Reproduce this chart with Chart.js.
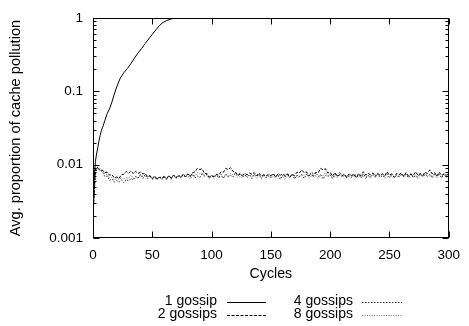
<!DOCTYPE html>
<html>
<head>
<meta charset="utf-8">
<script src="https://cdn.jsdelivr.net/npm/chart.js@4/dist/chart.umd.min.js"></script>
<style>
  html, body { margin: 0; padding: 0; background: #fff; }
  #wrap { width: 469px; height: 326px; }
</style>
</head>
<body>
<div id="wrap"><canvas id="c" width="469" height="326"></canvas></div>
<script>
// ---------------- data ----------------
const seriesLabels = ['1 gossip', '2 gossips', '4 gossips', '8 gossips'];

const oneGossipCycles = [0,1,2,3,4,5,6,7,8,10,12,14,16,18,20,23,26,29,32,35,38,41,44,47,50,53,56,59,62,65,68,71,80,100,150,200,250,300];
const oneGossip = [0.002,0.0065,0.011,0.014,0.017,0.021,0.025,0.029,0.032,0.040,0.050,0.058,0.072,0.092,0.115,0.152,0.180,0.205,0.240,0.285,0.335,0.385,0.450,0.520,0.600,0.690,0.790,0.870,0.925,0.965,0.990,1.0,1.0,1.0,1.0,1.0,1.0,1.0];

const cycles = [
  0,2,4,6,8,10,12,14,16,18,
  20,22,24,26,28,30,32,34,36,38,
  40,42,44,46,48,50,52,54,56,58,
  60,62,64,66,68,70,72,74,76,78,
  80,82,84,86,88,90,92,94,96,98,
  100,102,104,106,108,110,112,114,116,118,
  120,122,124,126,128,130,132,134,136,138,
  140,142,144,146,148,150,152,154,156,158,
  160,162,164,166,168,170,172,174,176,178,
  180,182,184,186,188,190,192,194,196,198,
  200,202,204,206,208,210,212,214,216,218,
  220,222,224,226,228,230,232,234,236,238,
  240,242,244,246,248,250,252,254,256,258,
  260,262,264,266,268,270,272,274,276,278,
  280,282,284,286,288,290,292,294,296,298,
  300
];

const twoGossips = [
  0.0020,0.0086,0.0090,0.0083,0.0084,0.0078,0.0079,0.0072,0.0073,0.0066,
  0.0068,0.0065,0.0073,0.0074,0.0081,0.0076,0.0082,0.0075,0.0081,0.0076,
  0.0079,0.0075,0.0076,0.0069,0.0071,0.0065,0.0070,0.0064,0.0067,0.0065,
  0.0068,0.0065,0.0070,0.0066,0.0072,0.0066,0.0073,0.0067,0.0074,0.0068,
  0.0075,0.0069,0.0078,0.0080,0.0089,0.0086,0.0088,0.0076,0.0076,0.0068,
  0.0071,0.0069,0.0073,0.0072,0.0080,0.0079,0.0089,0.0086,0.0091,0.0081,
  0.0080,0.0071,0.0075,0.0072,0.0076,0.0073,0.0077,0.0074,0.0078,0.0071,
  0.0077,0.0070,0.0073,0.0070,0.0074,0.0071,0.0075,0.0068,0.0075,0.0072,
  0.0075,0.0071,0.0074,0.0067,0.0074,0.0071,0.0079,0.0077,0.0085,0.0078,
  0.0080,0.0071,0.0074,0.0070,0.0079,0.0078,0.0089,0.0085,0.0088,0.0077,
  0.0079,0.0070,0.0078,0.0069,0.0073,0.0070,0.0074,0.0067,0.0075,0.0071,
  0.0074,0.0066,0.0074,0.0071,0.0080,0.0072,0.0076,0.0073,0.0077,0.0069,
  0.0076,0.0072,0.0075,0.0071,0.0080,0.0072,0.0075,0.0067,0.0076,0.0073,
  0.0077,0.0069,0.0078,0.0070,0.0074,0.0071,0.0080,0.0072,0.0075,0.0071,
  0.0079,0.0076,0.0085,0.0075,0.0078,0.0070,0.0079,0.0071,0.0075,0.0072,
  0.0075
];

const fourGossips = [
  0.0020,0.0075,0.0093,0.0084,0.0080,0.0069,0.0070,0.0061,0.0064,0.0058,
  0.0061,0.0058,0.0062,0.0057,0.0063,0.0060,0.0065,0.0062,0.0069,0.0066,
  0.0074,0.0065,0.0073,0.0064,0.0071,0.0063,0.0067,0.0064,0.0068,0.0063,
  0.0071,0.0063,0.0072,0.0064,0.0073,0.0065,0.0069,0.0066,0.0074,0.0070,
  0.0074,0.0071,0.0075,0.0066,0.0070,0.0067,0.0075,0.0071,0.0074,0.0066,
  0.0070,0.0067,0.0075,0.0066,0.0074,0.0065,0.0073,0.0069,0.0072,0.0068,
  0.0077,0.0073,0.0076,0.0068,0.0072,0.0069,0.0073,0.0065,0.0074,0.0070,
  0.0073,0.0065,0.0074,0.0066,0.0070,0.0067,0.0076,0.0068,0.0071,0.0063,
  0.0072,0.0068,0.0077,0.0069,0.0073,0.0064,0.0072,0.0069,0.0073,0.0065,
  0.0074,0.0070,0.0079,0.0075,0.0078,0.0069,0.0073,0.0064,0.0072,0.0069,
  0.0073,0.0065,0.0074,0.0070,0.0079,0.0071,0.0074,0.0066,0.0070,0.0067,
  0.0075,0.0071,0.0074,0.0066,0.0075,0.0067,0.0071,0.0068,0.0076,0.0072,
  0.0075,0.0067,0.0071,0.0068,0.0076,0.0067,0.0071,0.0068,0.0072,0.0069,
  0.0073,0.0070,0.0074,0.0066,0.0075,0.0067,0.0071,0.0068,0.0077,0.0069,
  0.0073,0.0070,0.0074,0.0066,0.0075,0.0071,0.0074,0.0066,0.0075,0.0067,
  0.0072
];

const eightGossips = [
  0.0020,0.0082,0.0095,0.0088,0.0086,0.0075,0.0074,0.0066,0.0067,0.0061,
  0.0066,0.0063,0.0066,0.0064,0.0067,0.0065,0.0072,0.0065,0.0068,0.0065,
  0.0072,0.0069,0.0071,0.0068,0.0070,0.0063,0.0070,0.0062,0.0069,0.0066,
  0.0069,0.0062,0.0070,0.0063,0.0070,0.0067,0.0070,0.0067,0.0070,0.0068,
  0.0071,0.0064,0.0072,0.0070,0.0078,0.0075,0.0077,0.0069,0.0071,0.0064,
  0.0072,0.0065,0.0073,0.0066,0.0069,0.0067,0.0075,0.0068,0.0076,0.0073,
  0.0075,0.0067,0.0070,0.0067,0.0074,0.0066,0.0073,0.0070,0.0072,0.0065,
  0.0073,0.0066,0.0069,0.0067,0.0074,0.0066,0.0069,0.0067,0.0074,0.0067,
  0.0070,0.0063,0.0071,0.0068,0.0075,0.0068,0.0070,0.0067,0.0074,0.0072,
  0.0075,0.0067,0.0070,0.0068,0.0071,0.0064,0.0072,0.0070,0.0078,0.0071,
  0.0073,0.0066,0.0069,0.0067,0.0074,0.0067,0.0070,0.0068,0.0075,0.0068,
  0.0071,0.0069,0.0076,0.0069,0.0071,0.0064,0.0072,0.0065,0.0073,0.0066,
  0.0074,0.0071,0.0073,0.0066,0.0069,0.0067,0.0075,0.0068,0.0070,0.0067,
  0.0075,0.0068,0.0071,0.0069,0.0076,0.0068,0.0071,0.0064,0.0072,0.0069,
  0.0077,0.0069,0.0072,0.0070,0.0073,0.0066,0.0074,0.0067,0.0075,0.0068,
  0.0071
];

const xTickValues = [0, 50, 100, 150, 200, 250, 300];
const yTickValues = [0.001, 0.01, 0.1, 1];
const yTickLabels = ['0.001', '0.01', '0.1', '1'];
const xTitle = 'Cycles';
const yTitle = 'Avg. proportion of cache pollution';

// ---------------- chart ----------------
const FONT = "'Liberation Sans', Arial, Helvetica, sans-serif";
const FSIZE = 13.5;
const LEGEND_SIZE = 14;
Chart.defaults.font.family = FONT;
Chart.defaults.font.size = FSIZE;
Chart.defaults.color = '#000';

const toPts = (xs, ys) => xs.map((x, i) => ({ x: x, y: ys[i] }));

const frameAndTicks = {
  id: 'frameAndTicks',
  afterDatasetsDraw(chart) {
    const { ctx, chartArea: a, scales: { x, y } } = chart;
    ctx.save();
    ctx.strokeStyle = '#000';
    ctx.lineWidth = 1;
    const L = Math.round(a.left) + 0.5, R = Math.round(a.right) - 0.5;
    const T = Math.round(a.top) + 0.5, B = Math.round(a.bottom) - 0.5;
    ctx.beginPath();
    xTickValues.forEach(v => {
      const px = Math.round(x.getPixelForValue(v)) + 0.5;
      ctx.moveTo(px, B); ctx.lineTo(px, B - 6);
      ctx.moveTo(px, T); ctx.lineTo(px, T + 6);
    });
    yTickValues.forEach((d, di) => {
      for (let m = 1; m <= 9; m++) {
        if (di === yTickValues.length - 1 && m > 1) break;
        const v = d * m;
        const py = Math.round(y.getPixelForValue(v)) + 0.5;
        const len = m === 1 ? 6 : 3;
        ctx.moveTo(L, py); ctx.lineTo(L + len, py);
        ctx.moveTo(R, py); ctx.lineTo(R - len, py);
      }
    });
    ctx.stroke();
    ctx.strokeRect(L, T, R - L, B - T);
    ctx.restore();
  },
  afterDraw(chart) {
    const { ctx } = chart;
    const ds = chart.data.datasets;
    const cols = [{ tx: 217, l0: 227, l1: 266 }, { tx: 353, l0: 362, l1: 402 }];
    const rows = [301.5, 314.5];
    ctx.save();
    ctx.font = LEGEND_SIZE + 'px ' + FONT;
    ctx.fillStyle = '#000';
    ctx.textAlign = 'right';
    ctx.textBaseline = 'middle';
    ds.forEach((d, i) => {
      const c = cols[Math.floor(i / 2)], r = rows[i % 2];
      ctx.fillText(d.label, c.tx, r);
      ctx.beginPath();
      ctx.setLineDash(d.borderDash || []);
      ctx.strokeStyle = d.borderColor;
      ctx.lineWidth = d.borderWidth;
      ctx.moveTo(c.l0, Math.round(r) + 0.5);
      ctx.lineTo(c.l1, Math.round(r) + 0.5);
      ctx.stroke();
    });
    ctx.restore();
  }
};

new Chart(document.getElementById('c'), {
  type: 'line',
  data: {
    datasets: [
      { label: seriesLabels[0], data: toPts(oneGossipCycles, oneGossip), borderColor: '#000', borderWidth: 1, borderDash: [] },
      { label: seriesLabels[1], data: toPts(cycles, twoGossips), borderColor: '#000', borderWidth: 1, borderDash: [3, 1.5] },
      { label: seriesLabels[2], data: toPts(cycles, fourGossips), borderColor: '#333', borderWidth: 1, borderDash: [1.5, 1.5] },
      { label: seriesLabels[3], data: toPts(cycles, eightGossips), borderColor: '#888', borderWidth: 1, borderDash: [1.2, 1.2] }
    ]
  },
  options: {
    responsive: false,
    animation: false,
    devicePixelRatio: 1,
    layout: { padding: { top: 9, right: 13, left: 0, bottom: 0 } },
    elements: { point: { radius: 0 }, line: { tension: 0, fill: false } },
    plugins: { legend: { display: false }, tooltip: { enabled: false } },
    scales: {
      x: {
        type: 'linear', min: 0, max: 300,
        afterBuildTicks: s => { s.ticks = xTickValues.map(v => ({ value: v })); },
        ticks: { padding: 9, maxRotation: 0, autoSkip: false, callback: v => String(v) },
        grid: { display: false, drawTicks: false },
        border: { display: false },
        title: { display: true, text: xTitle, font: { size: 14.2 }, padding: { top: 0, bottom: 43.5 } },
        afterFit: s => { s.height = 88; }
      },
      y: {
        type: 'logarithmic', min: 0.001, max: 1,
        afterBuildTicks: s => { s.ticks = yTickValues.map(v => ({ value: v })); },
        ticks: { padding: 10, autoSkip: false, callback: (v, i) => yTickLabels[i] },
        grid: { display: false, drawTicks: false },
        border: { display: false },
        title: { display: true, text: yTitle, font: { size: 14.6 }, padding: { top: 7, bottom: 0 } },
        afterFit: s => { s.width = 93; }
      }
    }
  },
  plugins: [frameAndTicks]
});
</script>
</body>
</html>
